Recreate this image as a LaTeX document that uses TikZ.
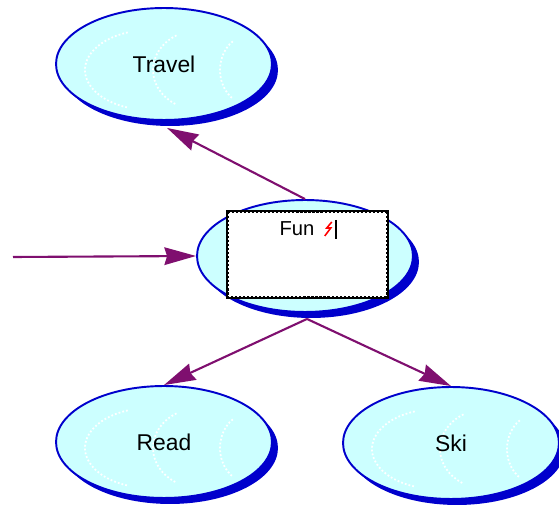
\documentclass[tikz,border=0pt]{standalone}
\usepackage{fontspec}
\setmainfont{Liberation Sans}
\usepackage{xcolor}
\usepackage{tikz}
\usetikzlibrary{calc}
\usetikzlibrary{shapes,arrows.meta,positioning,shadows}
\definecolor{bubble}{HTML}{CCFFFF}
\definecolor{rim}{HTML}{0000CC}
\definecolor{plum}{HTML}{7F0F6F}

\tikzset{
	topic/.style={ellipse,draw=rim,line width=1.1pt,fill=bubble,minimum width=4.32cm,minimum height=2.24cm,inner sep=0pt,font=\fontsize{12.5}{14}\selectfont,drop shadow={shadow xshift=0.12cm,shadow yshift=-0.12cm,fill=rim,opacity=1}},
	link/.style={plum,line width=1.2pt,-{Stealth[length=18pt,width=10pt,inset=1.5pt]}},
	sheen/.style={white,line width=1pt,dash pattern=on 1pt off 1.2pt},
	editbox/.style={rectangle,fill=white,minimum width=3.18cm,minimum height=1.7cm,inner sep=0pt}
}

\newcommand{\sheen}[1]{%
	\draw[sheen] ($(#1)+(-14,-6)+(110:65 and 40)$) arc[start angle=110,end angle=250,x radius=65,y radius=40];
	\draw[sheen] ($(#1)+(36,-6)+(120:47 and 40)$) arc[start angle=120,end angle=240,x radius=47,y radius=40];
	\draw[sheen] ($(#1)+(86,-6)+(125:30 and 35)$) arc[start angle=125,end angle=235,x radius=30,y radius=35];
}

\begin{document}
\begin{tikzpicture}[x=0.02cm,y=0.02cm]
		\useasboundingbox (0,0) rectangle (559,514);
		\node[topic] (travel) at (164,450) {};
		\node[topic] (fun) at (305,258) {};
		\node[topic] (read) at (164,72) {};
		\node[topic] (ski) at (451,71) {};
		\sheen{travel}
		\sheen{read}
		\sheen{ski}
		\node[font=\fontsize{13}{15}\selectfont] at (travel) {Travel};
		\node[font=\fontsize{13}{15}\selectfont] at (read) {Read};
		\node[font=\fontsize{13}{15}\selectfont] at (ski) {Ski};
		\node[editbox] (editor) at (307.5,259.5) {};
		\draw[line width=1.7pt] (editor.south west) rectangle (editor.north east);
		\draw[white,line width=0.6pt,dash pattern=on 1pt off 1.3pt] ($(editor.south west)+(1,1)$) rectangle ($(editor.north east)+(-1,-1)$);
		\node[inner sep=0pt,font=\fontsize{11.5}{13}\selectfont] (funtext) at (297,285) {Fun};
		\draw[red,line width=0.9pt] ([shift={(17,7)}]funtext.east) -- ++(-5,-6) -- ++(4,0) -- ++(-6,-8);
		\draw[line width=0.9pt] ([shift={(21,9)}]funtext.east) -- ++(0,-19);
		\coordinate (feed) at (13,257);
		\draw[link] (fun.north) -- ([shift={(3,-7)}]travel.south);
		\draw[link] (feed) -- (fun.west);
		\draw[link] ([shift={(2,-6)}]fun.south) -- (read.north);
		\draw[link] ([shift={(2,-6)}]fun.south) -- (ski.north);
	\end{tikzpicture}
\end{document}
